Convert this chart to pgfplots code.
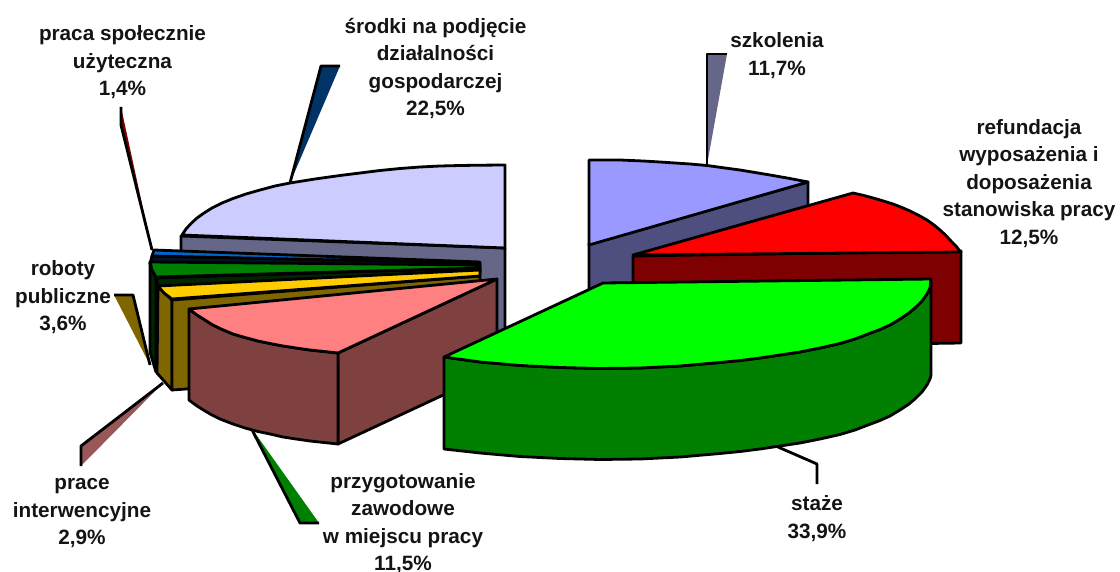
\documentclass[border=0pt]{standalone}
\usepackage{fontspec}
\setmainfont{Liberation Sans}
\usepackage{pgfplots}
\pgfplotsset{compat=1.18}
\definecolor{lavtop}{HTML}{CCCCFF}
\definecolor{lavside}{HTML}{666688}
\definecolor{sztop}{HTML}{9999FF}
\definecolor{szside}{HTML}{4F4F7F}
\definecolor{redside}{HTML}{7F0000}
\definecolor{lime}{HTML}{00FF00}
\definecolor{grnside}{HTML}{007F00}
\definecolor{pinktop}{HTML}{FF8080}
\definecolor{pinkside}{HTML}{7F4040}
\definecolor{yeltop}{HTML}{FFCC00}
\definecolor{yelside}{HTML}{7F6600}
\definecolor{dkgreen}{HTML}{008000}
\definecolor{blutop}{HTML}{0066CC}
\definecolor{navy}{HTML}{003366}
\definecolor{wedge}{HTML}{985858}
\newcommand{\lab}[3]{\node[align=center,anchor=center,font=\fontsize{20.8}{27.6}\selectfont\bfseries,text=black!92] at (axis cs:#1,#2) {#3};}
\begin{document}
\begin{tikzpicture}
\begin{axis}[
  at={(0,0)},anchor=south west,
  scale only axis,width=1120bp,height=572bp,
  xmin=0,xmax=1120,ymin=0,ymax=572,y dir=reverse,
  hide axis,clip=false,
  every axis plot/.append style={line width=2.8bp,line join=round,mark=none},
]
% leader wedges
\addplot[fill=navy,draw=none] coordinates {(290,183)(321,66)(340,66)} --cycle;
\addplot[black] coordinates {(290,183)(321,66)(340,66)};
\addplot[fill=redside,draw=none] coordinates {(121,107)(121,125)(152,250)(126,130)} --cycle;
\addplot[black] coordinates {(121,107)(121,125)(152,250)};
\addplot[fill=yelside,draw=none] coordinates {(114,295)(133,295)(150,365)} --cycle;
\addplot[black] coordinates {(114,295)(133,295)(150,365)};
\addplot[fill=wedge,draw=none] coordinates {(81,466)(81,446)(163,383)} --cycle;
\addplot[black] coordinates {(81,466)(81,446)(163,383)};
\addplot[fill=dkgreen,draw=none] coordinates {(250,426)(300,523)(319,523)} --cycle;
\addplot[black] coordinates {(250,426)(300,523)(319,523)};
\addplot[fill=lavside,draw=none] coordinates {(707,165)(707,54)(727,54)} --cycle;
\addplot[black] coordinates {(707,165)(707,54)(727,54)};
\addplot[black] coordinates {(778,447)(817,464)(817,484)};
% srodki
\addplot[fill=lavside,draw=black] coordinates {(181,236)(505,248)(505,340)(440,360)(181,300)} --cycle;
\addplot[fill=lavtop,draw=black] coordinates {(182,235)(186,229)(191,223.5)(197,218)(204,213)(212,208)(222,203)(233,198.5)(246,194)(260,190)(275,186)(290,183)(315,179)(340,175.5)(360,173)(380,170.5)(400,168.5)(420,167)(440,166)(460,165.5)(480,165.2)(505,165)(505,248)} --cycle;
% blue slice
\addplot[fill=navy!40!black,draw=black] coordinates {(152,256)(480,263)(480,272)(150,264)} --cycle;
\addplot[fill=blutop,draw=black] coordinates {(154,250)(152,256)(480,263)(480,262)} --cycle;
% green slice
\addplot[fill=black!70!dkgreen,draw=black] coordinates {(150,262)(152,270)(156,278)(156,372)(150,352)} --cycle;
\addplot[fill=black!70!dkgreen,draw=black] coordinates {(156,278)(480,268)(480,274)(158,288)} --cycle;
\addplot[fill=dkgreen,draw=black] coordinates {(150,262)(152,270)(156,277)(480,268)(480,265)} --cycle;
% yellow slice
\addplot[fill=yelside,draw=black] coordinates {(158,287)(172,300)(172,390)(157,373)} --cycle;
\addplot[fill=yelside,draw=black] coordinates {(172,300)(480,276)(480,368)(172,390)} --cycle;
\addplot[fill=yeltop,draw=black] coordinates {(158,286)(164,293)(172,299)(480,276)(480,270)} --cycle;
% pink slice
\addplot[fill=pinkside,draw=black] coordinates {(338,353)(497,279)(497,370)(338,444)} --cycle;
\addplot[fill=pinkside,draw=black] coordinates {(189,309)(197,315)(205,320)(212,324.5)(220,328.5)(233,334)(245,337.5)(258,341)(270,343.5)(283,346)(296,348)(310,350)(324,351.5)(338,353)(338,444)(324,442.5)(310,441)(296,439)(283,437)(270,434)(258,431.5)(245,428)(233,424)(220,419)(212,415)(205,411)(197,406)(189,400)} --cycle;
\addplot[fill=pinktop,draw=black] coordinates {(189,309)(197,315)(205,320)(212,324.5)(220,328.5)(233,334)(245,337.5)(258,341)(270,343.5)(283,346)(296,348)(310,350)(324,351.5)(338,353)(497,279)} --cycle;
% szkolenia
\addplot[fill=szside,draw=black] coordinates {(589,244)(808,182)(808,270)(589,320)} --cycle;
\addplot[fill=sztop,draw=black] coordinates {(589,160)(620,160)(643,161)(660,162)(675,163)(690,164)(707,165.5)(725,168)(740,170)(755,172.5)(770,175)(790,178.5)(808,182)(589,245)} --cycle;
% refundacja
\addplot[fill=redside,draw=black] coordinates {(633,256)(961,251)(961,343)(633,348)} --cycle;
\addplot[fill=red,draw=black] coordinates {(633,255)(853,193)(864,195.5)(875,198.5)(885,201.5)(893,204)(902,207.5)(910,211)(919,215.5)(927,220)(934,225)(940,230)(946,235.5)(951,241)(956,246)(959,250)(961,252)} --cycle;
% staze
\addplot[fill=grnside,draw=black] coordinates {(444,357)(480,362)(520,365.5)(560,367.5)(600,368.5)(640,368)(680,366)(720,362.5)(740,360.5)(760,358)(780,355)(800,352)(820,348)(840,343.5)(855,339)(868,334)(880,329.5)(890,325)(900,319)(909,313)(916,307)(922,301)(927,294)(930,288)(931,281)(931,375)(930,379)(927,385)(922,392)(916,398)(909,404)(900,410)(890,416)(880,420.5)(868,425)(855,430)(840,434.5)(820,439)(800,443)(780,446)(760,449)(740,451.5)(720,453.5)(680,457)(640,459)(600,459.5)(560,458.5)(520,456.5)(480,453)(444,449)} --cycle;
\addplot[fill=lime,draw=black] coordinates {(444,357)(480,362)(520,365.5)(560,367.5)(600,368.5)(640,368)(680,366)(720,362.5)(740,360.5)(760,358)(780,355)(800,352)(820,348)(840,343.5)(855,339)(868,334)(880,329.5)(890,325)(900,319)(909,313)(916,307)(922,301)(927,294)(930,288)(931,279)(603,283)} --cycle;
% labels
\lab{122.5}{62.5}{praca społecznie\\użyteczna\\1,4\%}
\lab{435.5}{68.5}{środki na podjęcie\\działalności\\gospodarczej\\22,5\%}
\lab{777}{55.5}{szkolenia\\11,7\%}
\lab{1029}{183.5}{refundacja\\wyposażenia i\\doposażenia\\stanowiska pracy\\12,5\%}
\lab{63}{297.5}{roboty\\publiczne\\3,6\%}
\lab{82}{513.5}{prace\\interwencyjne\\2,9\%}
\lab{403}{523.5}{przygotowanie\\zawodowe\\w miejscu pracy\\11,5\%}
\lab{817}{518.5}{staże\\33,9\%}
\end{axis}
\pgfresetboundingbox
\useasboundingbox (0,0) rectangle (1120bp,572bp);
\end{tikzpicture}
\end{document}
